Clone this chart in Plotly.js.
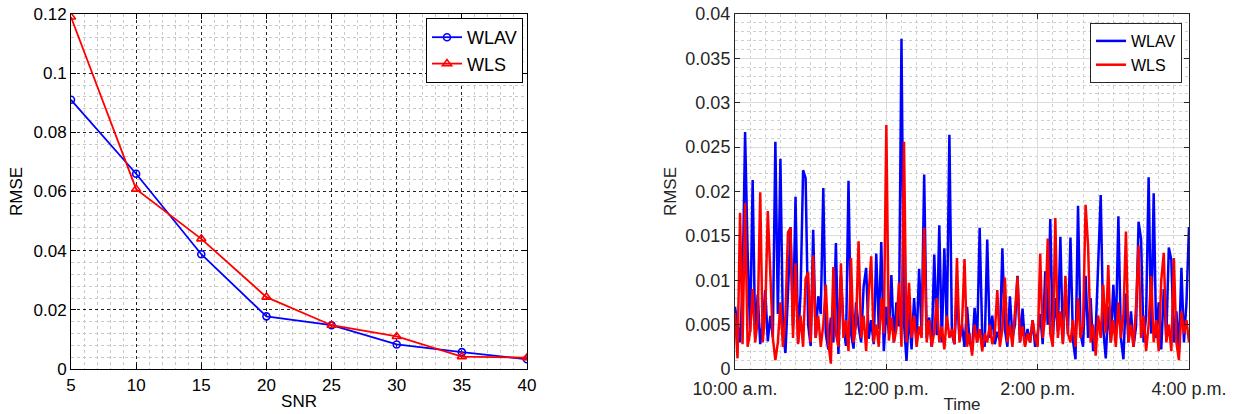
<!DOCTYPE html>
<html>
<head>
<meta charset="utf-8">
<script src="https://cdn.plot.ly/plotly-3.0.1.min.js"></script>
<style>html,body{margin:0;padding:0;background:#fff;}#chart{width:1240px;height:414px;}</style>
</head>
<body>
<div id="chart"></div>
<script>
// ---- Left panel: RMSE vs SNR ----
const snr = [5, 10, 15, 20, 25, 30, 35, 40];
const snrWLAV = [0.0910, 0.0660, 0.0388, 0.0178, 0.0148, 0.0083, 0.0057, 0.0033];
const snrWLS  = [0.1190, 0.0608, 0.0440, 0.0243, 0.0148, 0.0110, 0.0042, 0.0038];

// ---- Right panel: RMSE over time (10:00 a.m. - 4:00 p.m., sampled every 2 min) ----
const timeStartMin = 0;
const timeStepMin = 2;
const timeTickVals = [0, 120, 240, 360];
const timeTickText = ['10:00 a.m.', '12:00 p.m.', '2:00 p.m.', '4:00 p.m.'];

const timeWLAV = [
0.0070,0.0048,0.0030,0.0092,0.0267,0.0132,0.0042,0.0213,0.0035,0.0084,
0.0028,0.0052,0.0089,0.0031,0.0060,0.0036,0.0256,0.0062,0.0237,0.0045,
0.0018,0.0085,0.0160,0.0048,0.0194,0.0030,0.0085,0.0224,0.0215,0.0050,
0.0026,0.0157,0.0035,0.0082,0.0062,0.0204,0.0040,0.0022,0.0058,0.0030,
0.0142,0.0017,0.0105,0.0050,0.0026,0.0212,0.0040,0.0023,0.0075,0.0048,
0.0030,0.0093,0.0114,0.0034,0.0055,0.0028,0.0130,0.0045,0.0143,0.0020,
0.0070,0.0040,0.0106,0.0030,0.0075,0.0048,0.0372,0.0052,0.0009,0.0065,
0.0022,0.0080,0.0030,0.0113,0.0040,0.0219,0.0035,0.0058,0.0025,0.0129,
0.0038,0.0162,0.0030,0.0136,0.0045,0.0264,0.0040,0.0028,0.0087,0.0033,
0.0050,0.0025,0.0070,0.0032,0.0020,0.0069,0.0030,0.0159,0.0040,0.0025,
0.0146,0.0035,0.0060,0.0028,0.0042,0.0032,0.0136,0.0045,0.0025,0.0082,
0.0035,0.0050,0.0105,0.0030,0.0068,0.0027,0.0045,0.0030,0.0055,0.0025,
0.0040,0.0062,0.0028,0.0110,0.0050,0.0169,0.0035,0.0080,0.0042,0.0149,
0.0030,0.0090,0.0040,0.0148,0.0032,0.0011,0.0184,0.0040,0.0025,0.0105,
0.0035,0.0080,0.0020,0.0042,0.0110,0.0196,0.0045,0.0012,0.0070,0.0030,
0.0095,0.0040,0.0172,0.0035,0.0011,0.0085,0.0030,0.0065,0.0025,0.0048,
0.0166,0.0146,0.0030,0.0060,0.0216,0.0040,0.0198,0.0035,0.0075,0.0022,
0.0090,0.0035,0.0137,0.0123,0.0030,0.0065,0.0020,0.0114,0.0030,0.0075,
0.0160
];
const timeWLS = [
0.0063,0.0012,0.0176,0.0028,0.0187,0.0025,0.0042,0.0090,0.0030,0.0055,
0.0199,0.0030,0.0065,0.0178,0.0108,0.0035,0.0010,0.0030,0.0075,0.0025,
0.0060,0.0154,0.0159,0.0035,0.0119,0.0028,0.0060,0.0025,0.0102,0.0109,
0.0030,0.0128,0.0035,0.0060,0.0025,0.0050,0.0095,0.0030,0.0006,0.0115,
0.0040,0.0025,0.0119,0.0035,0.0055,0.0020,0.0125,0.0030,0.0050,0.0144,
0.0035,0.0060,0.0020,0.0085,0.0127,0.0030,0.0050,0.0025,0.0080,0.0040,
0.0275,0.0032,0.0058,0.0030,0.0045,0.0097,0.0025,0.0256,0.0030,0.0097,
0.0035,0.0060,0.0025,0.0048,0.0035,0.0159,0.0030,0.0055,0.0025,0.0042,
0.0080,0.0030,0.0048,0.0022,0.0060,0.0035,0.0045,0.0028,0.0125,0.0030,
0.0050,0.0124,0.0025,0.0040,0.0015,0.0050,0.0030,0.0045,0.0020,0.0040,
0.0030,0.0050,0.0028,0.0040,0.0089,0.0025,0.0045,0.0103,0.0030,0.0050,
0.0025,0.0060,0.0104,0.0030,0.0048,0.0025,0.0040,0.0030,0.0055,0.0035,
0.0025,0.0130,0.0035,0.0060,0.0147,0.0040,0.0025,0.0170,0.0035,0.0065,
0.0028,0.0105,0.0040,0.0030,0.0055,0.0025,0.0080,0.0035,0.0050,0.0185,
0.0138,0.0030,0.0050,0.0015,0.0060,0.0035,0.0095,0.0040,0.0117,0.0030,
0.0055,0.0025,0.0075,0.0035,0.0060,0.0155,0.0030,0.0050,0.0025,0.0070,
0.0139,0.0035,0.0060,0.0020,0.0050,0.0105,0.0030,0.0055,0.0020,0.0100,
0.0131,0.0030,0.0050,0.0020,0.0125,0.0030,0.0010,0.0065,0.0040,0.0055,
0.0030
];
const timeMinutes = timeWLAV.map((_, i) => timeStartMin + i * timeStepMin);

const FONT = 'Liberation Sans, Arial, Helvetica, sans-serif';

const traces = [
  {x: snr, y: snrWLAV, name: 'WLAV', type: 'scatter', mode: 'lines+markers',
   line: {color: '#0000ff', width: 1.8},
   marker: {symbol: 'circle-open', size: 7, color: '#0000ff', line: {width: 1.6, color: '#0000ff'}},
   xaxis: 'x', yaxis: 'y', legend: 'legend'},
  {x: snr, y: snrWLS, name: 'WLS', type: 'scatter', mode: 'lines+markers',
   line: {color: '#ff0000', width: 1.8},
   marker: {symbol: 'triangle-up-open', size: 8, color: '#ff0000', line: {width: 1.6, color: '#ff0000'}},
   xaxis: 'x', yaxis: 'y', legend: 'legend'},
  {x: timeMinutes, y: timeWLAV, name: 'WLAV', type: 'scatter', mode: 'lines',
   line: {color: '#0000ff', width: 2.5},
   xaxis: 'x2', yaxis: 'y2', legend: 'legend2'},
  {x: timeMinutes, y: timeWLS, name: 'WLS', type: 'scatter', mode: 'lines',
   line: {color: '#ff0000', width: 2.5},
   xaxis: 'x2', yaxis: 'y2', legend: 'legend2'}
];

const W = 1118;
const layout = {
  width: 1240, height: 414,
  margin: {l: 71, r: 51, t: 14, b: 45, pad: 0},
  paper_bgcolor: '#ffffff', plot_bgcolor: '#ffffff',
  font: {family: FONT, size: 17, color: '#000'},
  showlegend: true,
  xaxis: {
    domain: [0, (527 - 71) / W], range: [5, 40], autorange: false,
    tickmode: 'array', tickvals: snr,
    ticks: 'inside', ticklen: 5, tickcolor: '#000', mirror: 'ticks',
    showline: true, linecolor: '#000', linewidth: 1,
    showgrid: true, gridcolor: '#222', griddash: 'dot', gridwidth: 1,
    minor: {tick0: 5, dtick: 1, showgrid: true, gridcolor: '#c8c8c8', griddash: 'dot', ticks: ''},
    zeroline: false, automargin: false, ticklabelstandoff: 1,
    tickfont: {family: FONT, size: 17, color: '#000'},
    title: {text: 'SNR', font: {family: FONT, size: 17, color: '#000'}, standoff: 0}
  },
  yaxis: {
    domain: [0, 1], range: [0, 0.12], autorange: false,
    tickmode: 'linear', tick0: 0, dtick: 0.02,
    ticks: 'inside', ticklen: 5, tickcolor: '#000', mirror: 'ticks',
    showline: true, linecolor: '#000', linewidth: 1,
    showgrid: true, gridcolor: '#222', griddash: 'dot', gridwidth: 1,
    minor: {tick0: 0, dtick: 0.004, showgrid: true, gridcolor: '#c8c8c8', griddash: 'dot', ticks: ''},
    zeroline: false, automargin: false,
    tickfont: {family: FONT, size: 17, color: '#000'},
    title: {text: 'RMSE', font: {family: FONT, size: 17, color: '#000'}, standoff: 6}
  },
  xaxis2: {
    domain: [(735 - 71) / W, 1], range: [0, 360], autorange: false, anchor: 'y2',
    tickmode: 'array', tickvals: timeTickVals, ticktext: timeTickText,
    ticks: 'inside', ticklen: 5, tickcolor: '#262626', mirror: 'ticks',
    showline: true, linecolor: '#262626', linewidth: 1,
    showgrid: true, gridcolor: '#dcdcdc', gridwidth: 1,
    minor: {tick0: 0, dtick: 12, showgrid: true, gridcolor: '#cfcfcf', griddash: 'dot', ticks: ''},
    zeroline: false, automargin: false, ticklabelstandoff: 3,
    tickfont: {family: FONT, size: 18, color: '#262626'},
    title: {text: 'Time', font: {family: FONT, size: 17, color: '#262626'}, standoff: 0}
  },
  yaxis2: {
    domain: [0, 1], range: [0, 0.04], autorange: false, anchor: 'x2',
    tickmode: 'linear', tick0: 0, dtick: 0.005,
    ticks: 'inside', ticklen: 5, tickcolor: '#262626', mirror: 'ticks',
    showline: true, linecolor: '#262626', linewidth: 1,
    showgrid: true, gridcolor: '#dcdcdc', gridwidth: 1,
    minor: {tick0: 0, dtick: 0.001, showgrid: true, gridcolor: '#cfcfcf', griddash: 'dot', ticks: ''},
    zeroline: false, automargin: false,
    tickfont: {family: FONT, size: 18, color: '#262626'},
    title: {text: 'RMSE', font: {family: FONT, size: 17, color: '#262626'}, standoff: 4}
  },
  legend: {
    x: (426 - 71) / W, y: (369 - 18) / 355, xanchor: 'left', yanchor: 'top',
    bgcolor: '#ffffff', bordercolor: '#000', borderwidth: 1,
    font: {family: FONT, size: 18, color: '#000'},
    itemwidth: 30, tracegroupgap: 0
  },
  legend2: {
    x: (1090 - 71) / W, y: (369 - 23) / 355, xanchor: 'left', yanchor: 'top',
    bgcolor: '#ffffff', bordercolor: '#262626', borderwidth: 1,
    font: {family: FONT, size: 16, color: '#000'},
    itemwidth: 30, tracegroupgap: 0
  }
};

Plotly.newPlot('chart', traces, layout, {displayModeBar: false, staticPlot: true});
</script>
</body>
</html>
